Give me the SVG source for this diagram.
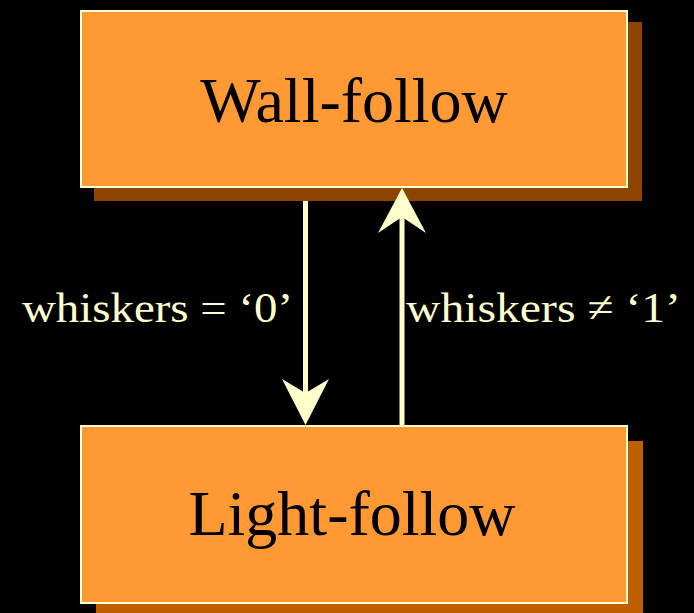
<svg xmlns="http://www.w3.org/2000/svg" width="694" height="613" viewBox="0 0 694 613">
<style>
.box{fill:#FF9933;stroke:#FFFFCC;stroke-width:2}
.name{font-family:"Liberation Serif","Times New Roman",serif;font-size:64px;fill:#000;text-anchor:middle}
.lbl{font-family:"Liberation Serif","Times New Roman",serif;font-size:43px;fill:#FFFFCC}
.conn{stroke:#FFFFCC;stroke-width:5;fill:none}
.head{fill:#FFFFCC}
</style>
<rect width="694" height="613" fill="#000"/>
<g id="wall-follow">
<rect x="94" y="22" width="548" height="179" fill="#8B4500"/>
<rect class="box" x="81" y="11" width="546" height="176"/>
<text class="name" x="354" y="122">Wall-follow</text>
</g>
<g id="light-follow">
<rect x="96" y="441" width="547" height="172" fill="#C05F00"/>
<rect class="box" x="81" y="426" width="546" height="177"/>
<text class="name" x="352" y="535">Light-follow</text>
</g>
<g id="connectors">
<line class="conn" x1="305.5" y1="201" x2="305.5" y2="395"/>
<polygon class="head" points="305.5,425 282,379 305.5,393 329,379"/>
<line class="conn" x1="402" y1="425" x2="402" y2="214"/>
<polygon class="head" points="402,188 378,233 402,217 426,233"/>
<text class="lbl" x="22" y="322" textLength="271" lengthAdjust="spacingAndGlyphs">whiskers = ‘0’</text>
<text class="lbl" x="406" y="322" textLength="275" lengthAdjust="spacingAndGlyphs">whiskers ≠ ‘1’</text>
</g>
</svg>
